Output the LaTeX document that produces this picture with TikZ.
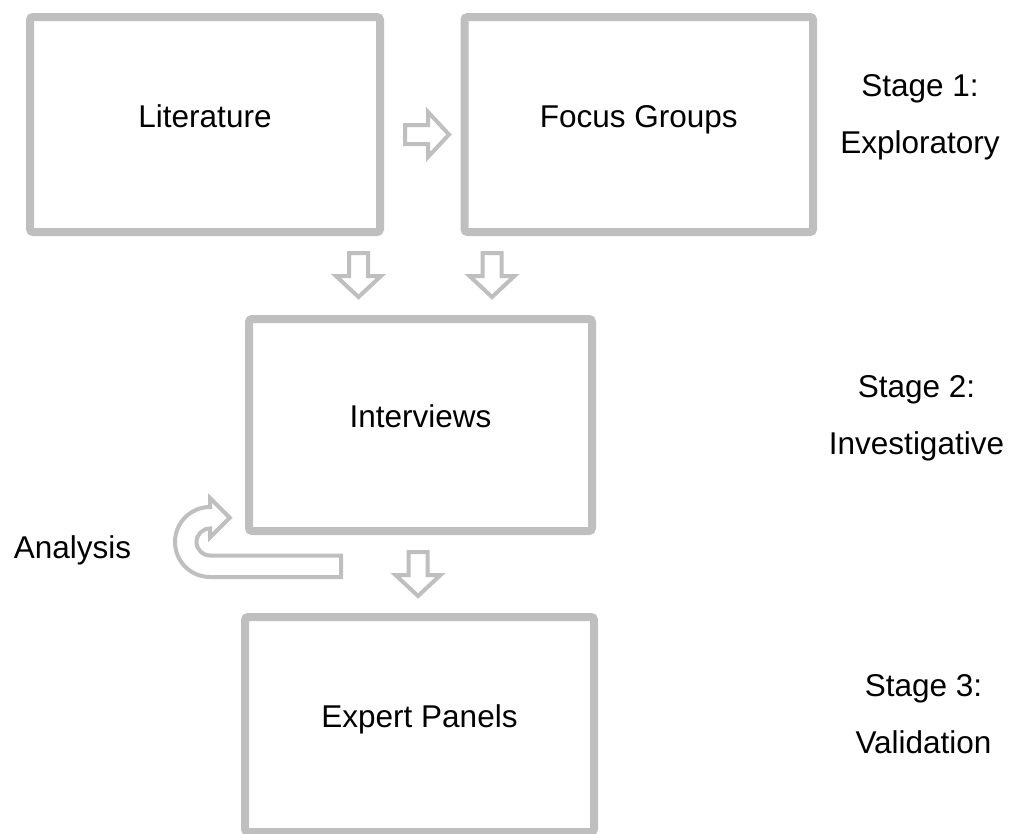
\documentclass[tikz,border=0pt]{standalone}
\usepackage{fontspec}
\setmainfont{Liberation Sans}
\definecolor{boxgray}{RGB}{191,191,191}

\begin{document}
\begin{tikzpicture}[x=1pt,y=-1pt,
        stagebox/.style={draw=boxgray, line width=8pt, rounded corners=3pt, inner sep=0pt,
            text height=23pt, text depth=18pt, font=\fontsize{31.5}{57}\selectfont},
        stagelabel/.style={anchor=north, inner sep=0pt, align=center, font=\fontsize{31.5}{57}\selectfont},
        hollow/.style={draw=boxgray, line width=4pt, fill=white, line join=miter}]
                \useasboundingbox (0,0) rectangle (1014,833);
                \node[stagebox, minimum width=350pt, minimum height=215pt] (lit) at (205,124.5) {Literature};
                \node[stagebox, minimum width=348.5pt, minimum height=215pt] (focus) at (638.75,124.5) {Focus Groups};
                \node[stagebox, minimum width=343pt, minimum height=212pt] (interv) at (420.5,425) {Interviews};
                \node[stagebox, minimum width=349pt, minimum height=215pt] (expert) at (419.5,724.5) {Expert Panels};
                \node[stagelabel] (stage1) at (920,74.5) {Stage 1:\\Exploratory};
                \node[stagelabel] (stage2) at (916.5,375) {Stage 2:\\Investigative};
                \node[stagelabel] (stage3) at (923.5,674.5) {Stage 3:\\Validation};
                \node[anchor=base, inner sep=0pt, font=\fontsize{31.5}{57}\selectfont] (analysis) at (72.5,558) {Analysis};
                \foreach \x/\y/\r in {405/134.5/90, 358.5/253/0, 492/253/0, 418/552/0}
                    \draw[hollow, shift={(\x,\y)}, rotate=\r] (-9.5,0) -- (9.5,0) -- (9.5,23) -- (22.5,23) -- (0,44) -- (-22.5,23) -- (-9.5,23) -- cycle;
                \draw[hollow] (341,555.5) -- (210,555.5) arc[start angle=90, end angle=270, radius=13.5] -- (210,537.5) -- (229.75,517.75) -- (210,498) -- (210,507) arc[start angle=270, end angle=90, radius=35] -- (341,577) -- cycle;
            \end{tikzpicture}
\end{document}
